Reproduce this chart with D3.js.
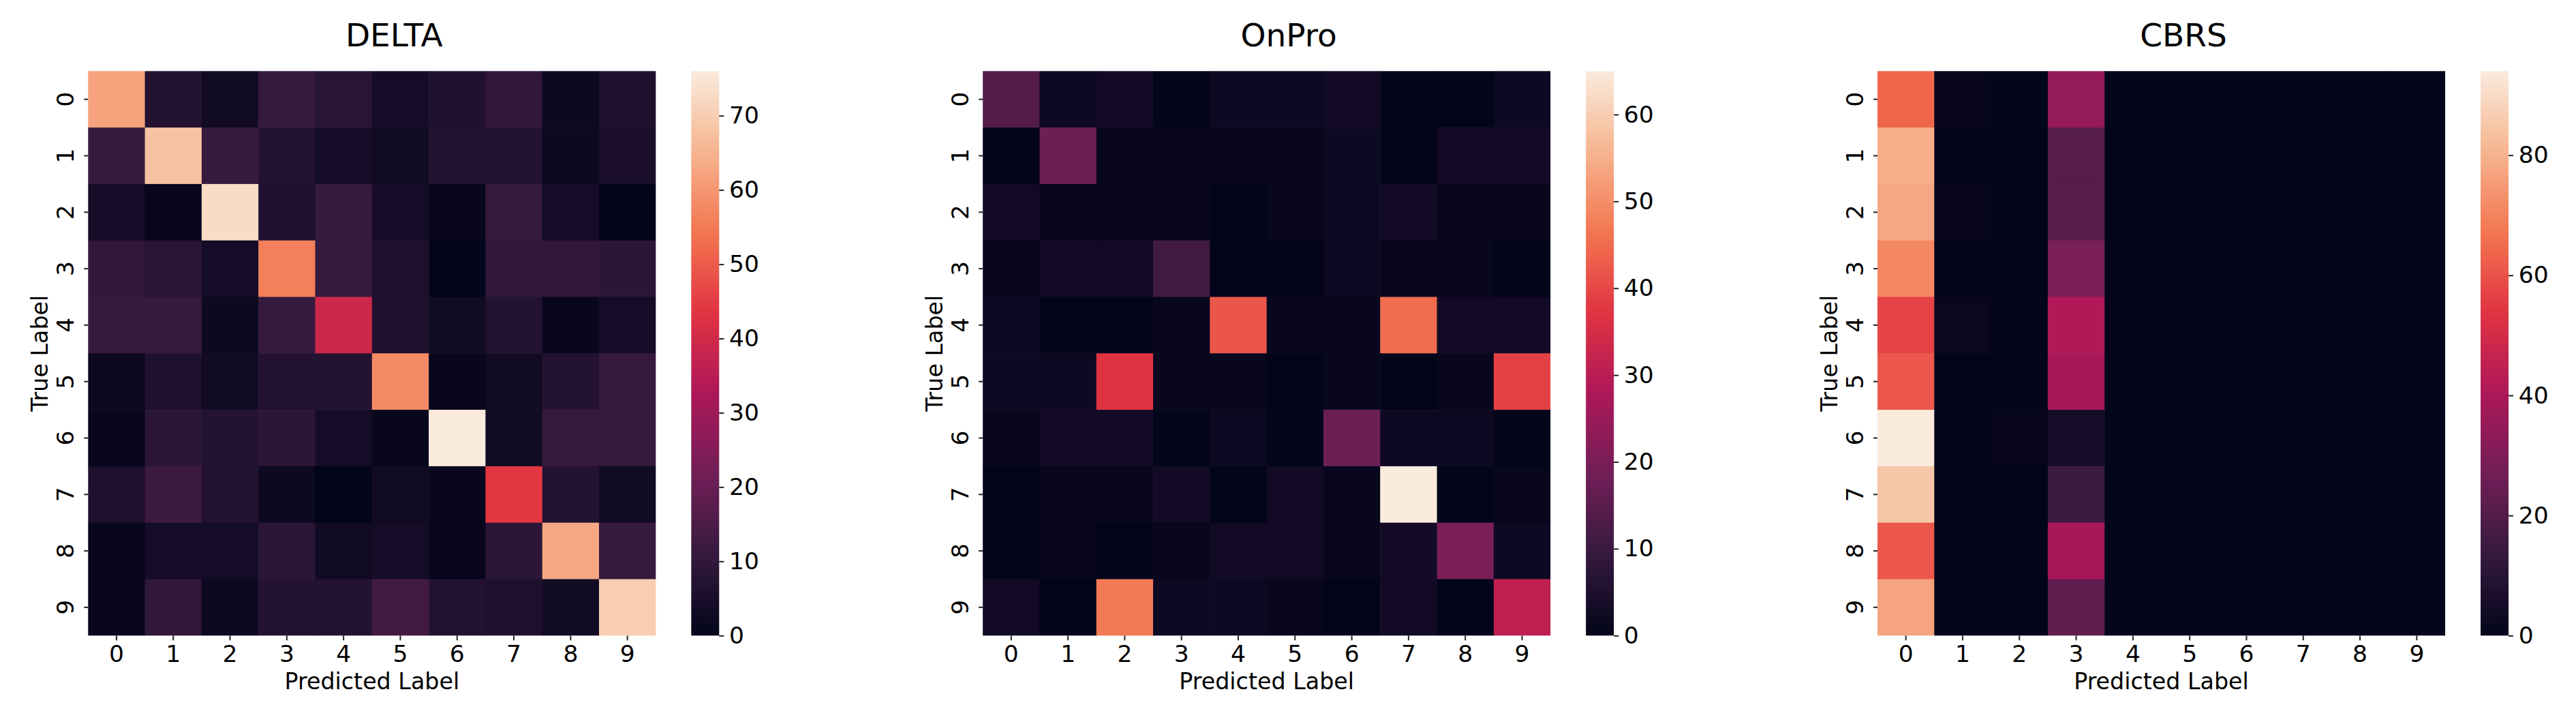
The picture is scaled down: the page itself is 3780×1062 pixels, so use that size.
<!DOCTYPE html>
<html>
<head>
<meta charset="utf-8">
<script src="https://cdn.jsdelivr.net/npm/d3@7"></script>
<style>
  body { margin: 0; background: #fff; }
  text { font-family: "DejaVu Sans", sans-serif; fill: #000; }
</style>
</head>
<body>
<svg id="chart" width="3780" height="1062"></svg>
<script>
// class labels shared by both axes
const classLabels = ["0", "1", "2", "3", "4", "5", "6", "7", "8", "9"];
const titles = ["DELTA", "OnPro", "CBRS"];

// confusion matrices, rows = true label, columns = predicted label
const deltaMatrix = [
  [62, 7, 3, 11, 8, 4, 6, 10, 2, 6],
  [11, 68, 11, 7, 4, 3, 7, 7, 2, 5],
  [4, 1, 73, 6, 11, 4, 1, 11, 4, 0],
  [10, 8, 4, 56, 11, 6, 0, 10, 10, 9],
  [11, 11, 2, 11, 39, 6, 3, 7, 1, 4],
  [2, 6, 3, 7, 7, 58, 1, 3, 7, 11],
  [1, 9, 7, 9, 4, 1, 76, 3, 11, 11],
  [6, 12, 7, 2, 0, 3, 1, 44, 7, 3],
  [1, 4, 4, 9, 3, 4, 1, 9, 63, 11],
  [1, 10, 2, 7, 7, 13, 7, 6, 3, 70]
];
const onproMatrix = [
  [14, 2, 3, 0, 2, 2, 3, 0, 0, 2],
  [0, 18, 1, 1, 1, 1, 2, 0, 3, 3],
  [3, 1, 1, 1, 0, 1, 2, 3, 1, 1],
  [1, 3, 3, 11, 0, 0, 2, 1, 1, 0],
  [2, 0, 0, 1, 42, 1, 1, 45, 3, 3],
  [2, 2, 37, 1, 1, 0, 1, 0, 1, 39],
  [1, 3, 3, 0, 2, 0, 18, 2, 2, 0],
  [0, 1, 1, 3, 0, 3, 1, 65, 0, 1],
  [0, 1, 0, 1, 3, 3, 1, 3, 20, 2],
  [3, 0, 47, 2, 2, 1, 0, 3, 0, 31]
];
const cbrsMatrix = [
  [64, 1, 0, 35, 0, 0, 0, 0, 0, 0],
  [79, 0, 0, 21, 0, 0, 0, 0, 0, 0],
  [78, 1, 0, 21, 0, 0, 0, 0, 0, 0],
  [71, 0, 0, 29, 0, 0, 0, 0, 0, 0],
  [57, 2, 0, 41, 0, 0, 0, 0, 0, 0],
  [61, 0, 0, 39, 0, 0, 0, 0, 0, 0],
  [94, 0, 1, 5, 0, 0, 0, 0, 0, 0],
  [85, 0, 0, 15, 0, 0, 0, 0, 0, 0],
  [61, 0, 0, 39, 0, 0, 0, 0, 0, 0],
  [77, 0, 0, 23, 0, 0, 0, 0, 0, 0]
];

// colorbar tick labels
const deltaTicks = [0, 10, 20, 30, 40, 50, 60, 70];
const onproTicks = [0, 10, 20, 30, 40, 50, 60];
const cbrsTicks = [0, 20, 40, 60, 80];

// seaborn "rocket" colormap key colours
const rocketColors = ["#03051a", "#35193e", "#701f57", "#ad1759",
                      "#e13342", "#f37651", "#f6b48f", "#faebdd"];

const svg = d3.select("#chart");
svg.append("rect").attr("width", 3780).attr("height", 1062).attr("fill", "#fff");
const defs = svg.append("defs");

const panels = [
  { title: titles[0], matrix: deltaMatrix, ticks: deltaTicks },
  { title: titles[1], matrix: onproMatrix, ticks: onproTicks },
  { title: titles[2], matrix: cbrsMatrix, ticks: cbrsTicks }
];

const mapW = 833, mapH = 828, mapTop = 104.3;
const cbarX = 885, cbarW = 41;
const tickFont = 34.5, labelFont = 33.3, titleFont = 47;

panels.forEach((p, i) => {
  const left = 129.3 + i * 1312.85;
  const g = svg.append("g").attr("transform", `translate(${left},${mapTop})`);

  const x = d3.scaleBand().domain(classLabels).range([0, mapW]);
  const y = d3.scaleBand().domain(classLabels).range([0, mapH]);
  const vmax = d3.max(p.matrix.flat());
  const color = d3.scaleSequential(d3.piecewise(d3.interpolateRgb, rocketColors))
    .domain([0, vmax]);

  // heatmap cells
  const cells = p.matrix.flatMap((row, r) => row.map((v, c) => ({ r, c, v })));
  g.selectAll("rect.cell")
    .data(cells)
    .join("rect")
    .attr("class", "cell")
    .attr("x", d => x(classLabels[d.c]))
    .attr("y", d => y(classLabels[d.r]))
    .attr("width", d => x.bandwidth() + (d.c < 9 ? 0.6 : 0))
    .attr("height", d => y.bandwidth() + (d.r < 9 ? 0.6 : 0))
    .attr("fill", d => color(d.v));

  // x axis
  const xAxis = g.append("g")
    .attr("transform", `translate(0,${mapH})`)
    .call(d3.axisBottom(x).tickSize(7).tickPadding(7.5));
  xAxis.select(".domain").remove();
  xAxis.attr("font-family", null).attr("font-size", tickFont);
  xAxis.selectAll(".tick line").attr("stroke", "#222").attr("stroke-width", 2);

  // y axis, labels turned vertical
  const yAxis = g.append("g").call(d3.axisLeft(y).tickSize(6));
  yAxis.select(".domain").remove();
  yAxis.attr("font-family", null).attr("font-size", tickFont);
  yAxis.selectAll(".tick line").attr("stroke", "#222").attr("stroke-width", 2);
  yAxis.selectAll(".tick text")
    .attr("x", 0)
    .attr("y", -21.3)
    .attr("dy", null)
    .attr("text-anchor", "middle")
    .attr("transform", "rotate(-90)");

  // axis titles
  g.append("text")
    .attr("x", mapW / 2)
    .attr("y", 906.4)
    .attr("text-anchor", "middle")
    .attr("font-size", labelFont)
    .text("Predicted Label");
  g.append("text")
    .attr("transform", `translate(-59.3,${mapH / 2}) rotate(-90)`)
    .attr("text-anchor", "middle")
    .attr("font-size", labelFont)
    .text("True Label");

  // panel title
  g.append("text")
    .attr("x", 449)
    .attr("y", -36)
    .attr("text-anchor", "middle")
    .attr("font-size", titleFont)
    .text(p.title);

  // colorbar
  const gradId = "cbar" + i;
  const grad = defs.append("linearGradient")
    .attr("id", gradId)
    .attr("x1", 0).attr("y1", 1).attr("x2", 0).attr("y2", 0);
  grad.selectAll("stop")
    .data(d3.range(0, 1.0001, 0.02))
    .join("stop")
    .attr("offset", t => t)
    .attr("stop-color", t => color(t * vmax));
  g.append("rect")
    .attr("x", cbarX)
    .attr("y", 0)
    .attr("width", cbarW)
    .attr("height", mapH)
    .attr("fill", `url(#${gradId})`);

  const cScale = d3.scaleLinear().domain([0, vmax]).range([mapH, 0]);
  const cAxis = g.append("g")
    .attr("transform", `translate(${cbarX + cbarW},0)`)
    .call(d3.axisRight(cScale).tickValues(p.ticks).tickSize(7).tickPadding(7.7));
  cAxis.select(".domain").remove();
  cAxis.attr("font-family", null).attr("font-size", tickFont);
  cAxis.selectAll(".tick line").attr("stroke", "#222").attr("stroke-width", 2);
});
</script>
</body>
</html>
